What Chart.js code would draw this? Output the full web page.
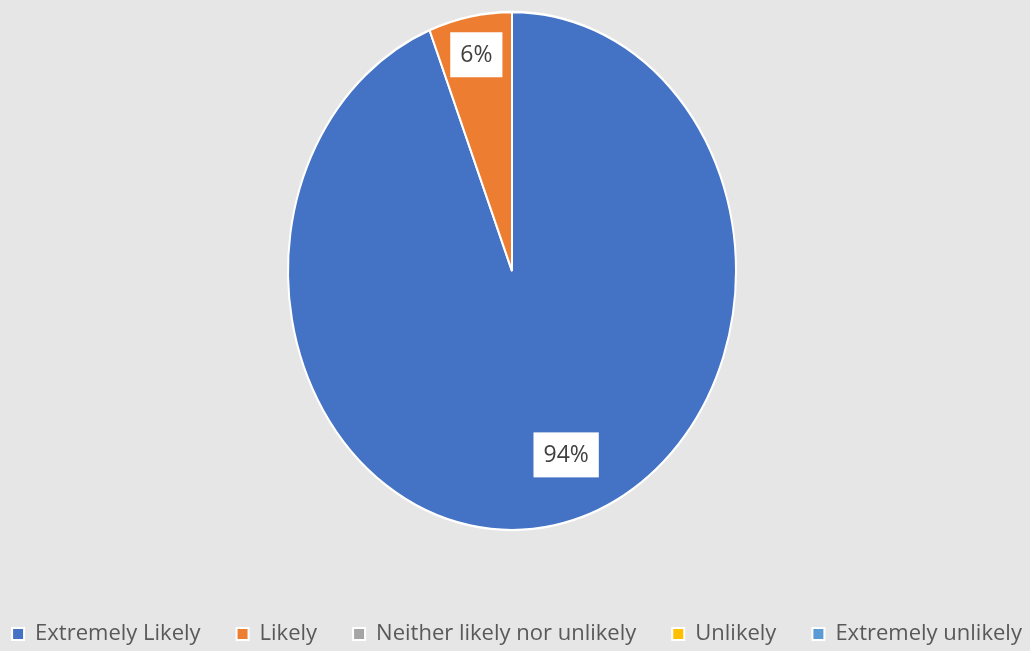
<!DOCTYPE html>
<html>
<head>
<meta charset="utf-8">
<title>Likelihood pie</title>
<script src="https://cdn.jsdelivr.net/npm/chart.js@4.4.0/dist/chart.umd.min.js"></script>
<style>
  html, body { margin: 0; padding: 0; background: #e7e6e6; }
  #wrap { width: 1030px; height: 651px; }
</style>
</head>
<body>
<div id="wrap"><canvas id="pieChart" width="1030" height="651"></canvas></div>
<script>
// data
const categories = ['Extremely Likely', 'Likely', 'Neither likely nor unlikely', 'Unlikely', 'Extremely unlikely'];
const shares = [94, 6, 0, 0, 0];
const sliceColors = ['#4472c4', '#ed7d31', '#a5a5a5', '#ffc000', '#5b9bd5'];

// look
const fontFamily = "'Open Sans', sans-serif";
const pieCenterX = 512;
const pieCenterY = 271;      // where the pie sits on the page
const stretchY = 259 / 224;  // the original pie is an upright oval
const labelRadius = [0.75, 0.85, 0.8, 0.8, 0.8];
const labelShift = [-8, 0, 0, 0, 0]; // degrees, best-fit nudge

const total = shares.reduce((a, b) => a + b, 0);

// draws the arcs stretched into an oval, then the white label boxes
const ovalPie = {
  id: 'ovalPie',
  beforeDatasetsDraw(chart) {
    const arc = chart.getDatasetMeta(0).data[0];
    const ctx = chart.ctx;
    ctx.save();
    ctx.translate(pieCenterX, pieCenterY);
    ctx.scale(1, stretchY);
    ctx.translate(-arc.x, -arc.y);
  },
  afterDatasetsDraw(chart) {
    const ctx = chart.ctx;
    ctx.restore();
    chart.getDatasetMeta(0).data.forEach((arc, i) => {
      if (!shares[i]) return;
      const mid = (arc.startAngle + arc.endAngle) / 2 + labelShift[i] * Math.PI / 180;
      const r = arc.outerRadius * labelRadius[i];
      const x = pieCenterX + Math.cos(mid) * r;
      const y = pieCenterY + Math.sin(mid) * r * stretchY;
      const txt = Math.round(shares[i] / total * 100) + '%';
      ctx.save();
      ctx.font = '23px ' + fontFamily;
      const w = ctx.measureText(txt).width + 20;
      const h = 45;
      ctx.fillStyle = '#ffffff';
      ctx.fillRect(x - w / 2, y - h / 2, w, h);
      ctx.fillStyle = '#404040';
      ctx.textAlign = 'center';
      ctx.textBaseline = 'middle';
      ctx.fillText(txt, x, y + 1);
      ctx.restore();
    });
  }
};

const ctx = document.getElementById('pieChart').getContext('2d');
const pieChart = new Chart(ctx, {
  type: 'pie',
  data: {
    labels: categories,
    datasets: [{
      data: shares,
      backgroundColor: sliceColors,
      borderColor: '#ffffff',
      borderWidth: 2,
      radius: 224,
      clip: false
    }]
  },
  options: {
    responsive: false,
    animation: false,
    // negative padding lets the wide legend row use the full page
    layout: { padding: { top: 0, right: -30, bottom: -4, left: -26 } },
    plugins: {
      tooltip: { enabled: false },
      legend: {
        position: 'bottom',
        labels: {
          boxWidth: 12,
          boxHeight: 12,
          padding: 36,
          color: '#595959',
          font: { family: fontFamily, size: 22 },
          generateLabels(chart) {
            return categories.map((c, i) => ({
              text: c,
              fillStyle: sliceColors[i],
              strokeStyle: '#ffffff',
              lineWidth: 2,
              fontColor: '#595959',
              index: i,
              hidden: false
            }));
          }
        }
      }
    }
  },
  plugins: [ovalPie]
});
</script>
</body>
</html>
